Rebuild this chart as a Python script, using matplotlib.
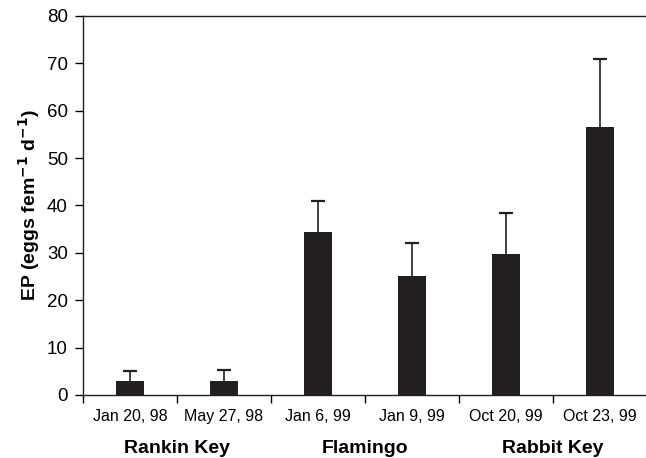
import matplotlib
matplotlib.use("Agg")
import matplotlib.pyplot as plt
import numpy as np

dates = ["Jan 20, 98", "May 27, 98", "Jan 6, 99", "Jan 9, 99", "Oct 20, 99", "Oct 23, 99"]
sites = ["Rankin Key", "Flamingo", "Rabbit Key"]
ep = [3.0, 3.0, 34.5, 25.2, 29.8, 56.5]
err = [2.0, 2.3, 6.5, 6.8, 8.7, 14.5]

plt.rcParams['font.family'] = ['Liberation Sans', 'DejaVu Sans']
fig = plt.figure(figsize=(6.46, 4.58), dpi=100)
ax = fig.add_axes([0.1285, 0.1376, 0.873, 0.8275])

x = np.arange(len(dates))
ax.bar(x, ep, width=0.3, color='#231f20', zorder=2)
eb = ax.errorbar(x, ep, yerr=[np.zeros(len(err)), err], fmt='none', ecolor='#231f20',
                 elinewidth=1.2, capsize=5, capthick=1.6, zorder=1)
eb[1][0].set_visible(False)
eb[1][1].set_color('#555555')

ax.set_xlim(-0.5, 5.5)
ax.set_ylim(0, 80)
ax.set_yticks(np.arange(0, 81, 10))
ax.set_xticks(np.arange(-0.5, 5.51, 1.0))
ax.set_xticklabels([])
ax.set_xticks(x, minor=True)
ax.set_xticklabels(dates, minor=True, fontsize=11.5)
ax.tick_params(axis='x', which='minor', length=0, pad=10)
ax.tick_params(axis='x', which='major', length=6, width=1, direction='out')
ax.tick_params(axis='y', length=6, width=1, direction='out', labelsize=13.5, pad=5)

for s in ['left', 'bottom', 'top']:
    ax.spines[s].set_linewidth(1.0)
    ax.spines[s].set_color('#231f20')
ax.spines['right'].set_visible(False)

ax.set_ylabel(r'EP (eggs fem$^{\mathbf{-1}}$ d$^{\mathbf{-1}}$)', fontsize=14,
              fontweight='bold')
ax.yaxis.set_label_coords(-0.072, 0.5)

for i, name in enumerate(sites):
    ax.text(2 * i + 0.5, -11.2, name, ha='center', va='center', fontsize=14,
            fontweight='bold', transform=ax.transData, clip_on=False)

fig.savefig("out.png", dpi=100)
